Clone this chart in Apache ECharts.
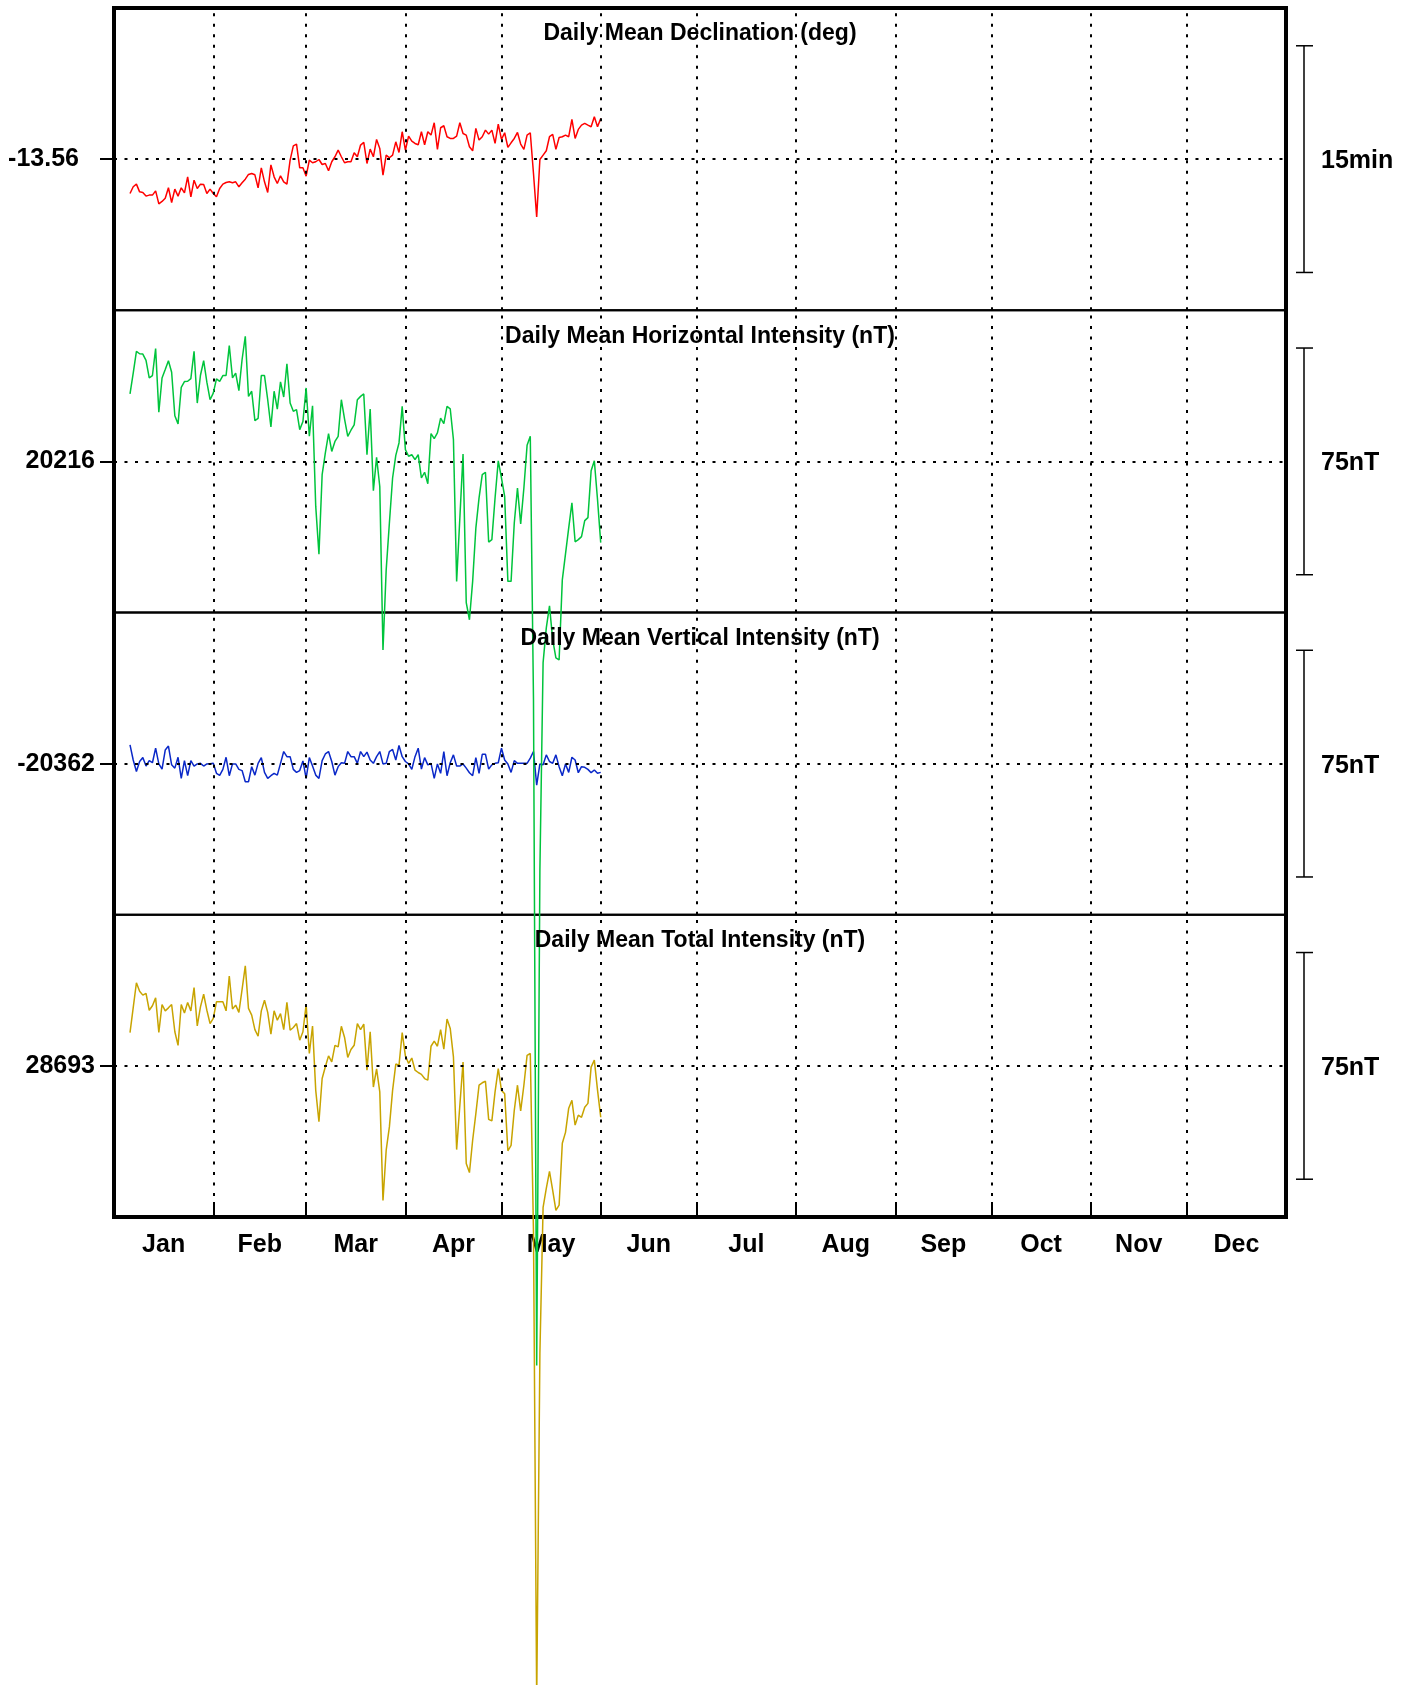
<!DOCTYPE html>
<html><head><meta charset="utf-8">
<script src="https://cdn.jsdelivr.net/npm/echarts@6/dist/echarts.min.js"></script>
<style>html,body{margin:0;padding:0;background:#fff}#c{width:1406px;height:1685px}</style>
</head><body><div id="c"></div>
<script>
// ---- data (2024, leap year; x = day of year) ----
const firstDay = 5;
const monthStarts = [0,31,60,91,121,152,182,213,244,274,305,335,366];
const monthNames = ['Jan','Feb','Mar','Apr','May','Jun','Jul','Aug','Sep','Oct','Nov','Dec'];
const panelTitles = ['Daily Mean Declination (deg)','Daily Mean Horizontal Intensity (nT)','Daily Mean Vertical Intensity (nT)','Daily Mean Total Intensity (nT)'];
const baselines = [-13.56, 20216, -20362, 28693];
const halfRanges = [10/60, 50, 50, 50];
const scaleBarSizes = [15/60, 75, 75, 75];
const scaleBarLabels = ['15min','75nT','75nT','75nT'];
const seriesColors = ['#ff0000','#00c43c','#0a28c8','#c8a400'];

const declination = [
-13.5979,-13.5905,-13.5876,-13.5961,-13.5968,-13.6008,-13.5997,-13.5997,-13.5950,-13.6093,
-13.6067,-13.6031,-13.5916,-13.6078,-13.5931,-13.6008,-13.5916,-13.5972,-13.5795,-13.6016,
-13.5832,-13.5924,-13.5876,-13.5880,-13.5979,-13.5931,-13.5979,-13.6016,-13.5924,-13.5876,
-13.5858,-13.5850,-13.5861,-13.5850,-13.5905,-13.5861,-13.5821,-13.5769,-13.5758,-13.5773,
-13.5916,-13.5696,-13.5850,-13.5968,-13.5663,-13.5795,-13.5869,-13.5784,-13.5850,-13.5876,
-13.5611,-13.5453,-13.5434,-13.5696,-13.5696,-13.5788,-13.5611,-13.5640,-13.5629,-13.5604,
-13.5659,-13.5648,-13.5729,-13.5629,-13.5574,-13.5501,-13.5574,-13.5640,-13.5629,-13.5629,
-13.5530,-13.5574,-13.5445,-13.5416,-13.5648,-13.5490,-13.5574,-13.5383,-13.5482,-13.5777,
-13.5556,-13.5585,-13.5556,-13.5409,-13.5526,-13.5298,-13.5501,-13.5346,-13.5401,-13.5427,
-13.5442,-13.5298,-13.5442,-13.5298,-13.5335,-13.5199,-13.5493,-13.5254,-13.5232,-13.5353,
-13.5372,-13.5372,-13.5346,-13.5199,-13.5317,-13.5335,-13.5464,-13.5508,-13.5261,-13.5390,
-13.5353,-13.5280,-13.5324,-13.5280,-13.5427,-13.5214,-13.5383,-13.5309,-13.5471,-13.5420,
-13.5372,-13.5306,-13.5434,-13.5493,-13.5335,-13.5309,-13.5758,-13.6237,-13.5604,-13.5556,
-13.5508,-13.5353,-13.5328,-13.5493,-13.5361,-13.5353,-13.5335,-13.5353,-13.5162,-13.5372,
-13.5272,-13.5225,-13.5206,-13.5225,-13.5243,-13.5133,-13.5243,-13.5151
];
const horizontal = [
20238.3,20245.2,20252.4,20251.6,20251.5,20249.4,20243.6,20244.4,20253.3,20232.3,
20243.6,20246.4,20249.3,20245.5,20231.1,20228.4,20240.5,20242.4,20242.5,20243.4,
20252.4,20235.3,20244.5,20249.3,20242.2,20236.4,20238.6,20243.3,20242.5,20244.4,
20244.4,20254.3,20243.6,20245.2,20239.4,20249.7,20257.4,20237.5,20239.2,20229.5,
20230.2,20244.4,20244.4,20236.4,20227.4,20239.2,20233.3,20242.3,20237.3,20248.3,
20235.3,20232.6,20233.1,20226.5,20229.2,20240.3,20224.3,20234.4,20201.1,20185.3,
20211.6,20218.8,20225.2,20219.3,20222.6,20224.3,20236.4,20230.0,20224.3,20226.3,
20228.1,20236.4,20237.5,20238.3,20218.2,20233.3,20206.3,20217.3,20207.7,20153.6,
20180.1,20195.6,20210.5,20218.0,20222.1,20234.2,20219.9,20217.7,20218.2,20216.6,
20218.2,20210.5,20212.4,20208.6,20225.2,20223.5,20225.4,20230.3,20228.5,20234.2,
20233.4,20223.2,20176.3,20197.2,20218.4,20169.3,20163.6,20176.3,20193.9,20203.9,
20211.6,20212.4,20189.3,20190.1,20203.9,20216.2,20210.5,20204.4,20176.3,20176.3,
20195.6,20207.2,20195.3,20207.2,20221.3,20224.3,20137.1,19916.9,20080.8,20149.4,
20160.9,20168.2,20157.0,20151.0,20150.3,20176.8,20185.4,20194.0,20202.3,20189.4,
20190.1,20191.1,20196.4,20197.4,20212.9,20216.2,20203.3,20189.1
];
const vertical = [
-20355.8,-20360.8,-20364.6,-20361.3,-20360.0,-20362.8,-20361.0,-20361.7,-20356.9,-20362.1,
-20363.8,-20357.5,-20356.2,-20362.4,-20363.5,-20359.9,-20366.9,-20361.0,-20366.0,-20361.0,
-20362.8,-20362.1,-20361.9,-20362.8,-20362.1,-20362.0,-20361.9,-20365.2,-20365.9,-20363.9,
-20359.9,-20366.0,-20362.1,-20362.1,-20363.9,-20364.3,-20368.0,-20368.0,-20363.0,-20365.8,
-20361.9,-20360.0,-20364.9,-20366.9,-20366.0,-20365.2,-20365.8,-20361.9,-20358.0,-20359.7,
-20359.7,-20363.9,-20364.9,-20364.3,-20361.1,-20366.9,-20360.0,-20362.8,-20365.8,-20366.9,
-20361.0,-20358.8,-20358.0,-20361.3,-20365.8,-20363.0,-20361.7,-20361.9,-20358.0,-20359.7,
-20359.7,-20361.9,-20358.0,-20359.7,-20358.2,-20360.8,-20361.9,-20359.7,-20358.0,-20362.1,
-20361.9,-20358.0,-20357.3,-20360.8,-20356.0,-20359.7,-20361.3,-20362.1,-20363.9,-20359.7,
-20356.9,-20363.8,-20360.0,-20362.4,-20361.9,-20366.9,-20362.1,-20365.2,-20358.0,-20366.0,
-20361.7,-20359.1,-20362.8,-20362.8,-20362.1,-20363.5,-20365.0,-20366.0,-20360.0,-20365.2,
-20358.9,-20358.9,-20363.8,-20362.4,-20361.9,-20361.7,-20356.9,-20360.8,-20362.1,-20364.9,
-20361.0,-20361.9,-20361.9,-20361.9,-20361.9,-20360.2,-20358.0,-20369.1,-20362.1,-20362.4,
-20359.1,-20361.3,-20361.9,-20359.1,-20363.0,-20366.0,-20362.1,-20364.9,-20359.9,-20360.8,
-20365.0,-20363.0,-20363.2,-20363.9,-20365.0,-20364.1,-20365.2,-20364.9
];
const total = [
28704.0,28712.3,28720.5,28717.7,28716.4,28717.0,28711.4,28712.9,28715.5,28704.1,
28713.3,28711.2,28712.2,28713.3,28704.3,28699.8,28713.3,28710.5,28714.0,28711.2,
28718.9,28706.2,28712.5,28716.7,28711.4,28707.0,28708.7,28714.2,28714.2,28714.2,
28711.2,28722.7,28711.8,28713.1,28710.7,28718.3,28726.1,28712.0,28709.8,28705.0,
28702.8,28711.2,28714.7,28710.7,28703.5,28711.2,28708.1,28710.3,28705.0,28714.0,
28704.8,28705.7,28707.0,28701.5,28704.3,28713.3,28697.1,28706.2,28684.9,28674.5,
28688.8,28692.7,28696.3,28694.3,28699.8,28699.3,28706.1,28702.4,28695.8,28698.4,
28699.8,28707.0,28705.0,28706.8,28691.6,28704.3,28686.0,28692.0,28684.4,28648.5,
28665.1,28672.8,28684.9,28693.6,28693.2,28704.0,28696.3,28693.8,28695.6,28691.6,
28690.8,28690.2,28688.8,28688.3,28699.5,28701.2,28699.5,28705.0,28698.5,28708.5,
28705.4,28696.0,28665.3,28679.9,28694.3,28660.7,28657.7,28668.4,28677.2,28686.6,
28687.4,28687.9,28675.3,28674.8,28684.4,28692.1,28684.9,28683.8,28664.9,28666.7,
28678.3,28686.6,28678.1,28686.6,28696.5,28697.1,28637.9,28483.0,28597.9,28646.2,
28652.5,28658.1,28651.8,28645.2,28646.9,28667.4,28671.0,28679.0,28681.6,28673.4,
28676.7,28676.0,28679.3,28680.6,28692.6,28694.9,28685.0,28676.0
];
const panelData = [declination, horizontal, vertical, total];

// ---- layout ----
const L = 114, W = 1172, T0 = 8, PH = 302.25;
const FONT = '"Liberation Sans", Arial, sans-serif';
const innerMonthLines = monthStarts.slice(1, -1);
const monthMids = monthNames.map((n, i) => (monthStarts[i] + monthStarts[i + 1]) / 2);

const chart = echarts.init(document.getElementById('c'), null, {renderer: 'canvas'});

const grids = [], xAxes = [], yAxes = [], series = [];
for (let i = 0; i < 4; i++) {
  const b = baselines[i], h = halfRanges[i];
  grids.push({left: L, width: W, top: T0 + i * PH, height: PH, show: true,
    borderColor: '#000', borderWidth: 2, backgroundColor: 'transparent', containLabel: false});
  const last = i === 3;
  xAxes.push({type: 'value', gridIndex: i, min: 0, max: 366,
    axisLine: {show: false}, splitLine: {show: false},
    axisTick: last ? {show: true, inside: true, length: 15, customValues: innerMonthLines,
      lineStyle: {color: '#000', width: 2}} : {show: false},
    axisLabel: last ? {show: true, customValues: monthMids,
      formatter: v => { const k = monthMids.findIndex(m => Math.abs(m - v) < 0.01); return k >= 0 ? monthNames[k] : ''; },
      fontSize: 25, fontWeight: 'bold', color: '#000', fontFamily: FONT, margin: 16} : {show: false}});
  yAxes.push({type: 'value', gridIndex: i, min: b - h, max: b + h, scale: true,
    axisLine: {show: false}, splitLine: {show: false},
    axisTick: {show: true, length: 14, customValues: [b], lineStyle: {color: '#000', width: 2}},
    axisLabel: {show: true, customValues: [b],
      formatter: v => i === 0 ? v.toFixed(2) : String(Math.round(v)),
      padding: [7, 0, 0, 0],
      fontSize: 25, fontWeight: 'bold', color: '#000', fontFamily: FONT, margin: i === 0 ? 35 : 19}});
  series.push({type: 'line', xAxisIndex: i, yAxisIndex: i,
    data: panelData[i].map((v, k) => [firstDay + k, v]),
    showSymbol: false, symbol: 'none', clip: false, animation: false,
    z: i === 1 ? 6 : 4,
    lineStyle: {color: seriesColors[i], width: 1.5},
    markLine: {silent: true, symbol: ['none', 'none'], animation: false, label: {show: false},
      lineStyle: {color: '#000', type: [3, 7.5], width: 2},
      emphasis: {disabled: true},
      data: innerMonthLines.map(x => ({xAxis: x})).concat([{yAxis: b}])}});
}

chart.setOption({
  animation: false,
  backgroundColor: '#fff',
  grid: grids, xAxis: xAxes, yAxis: yAxes, series: series
});

// scale bars and titles, positioned through the axes
const graphics = [];
for (let i = 0; i < 4; i++) {
  const b = baselines[i];
  const cy = chart.convertToPixel({yAxisIndex: i}, b);
  const ty = chart.convertToPixel({yAxisIndex: i}, b + scaleBarSizes[i] / 2);
  const by = chart.convertToPixel({yAxisIndex: i}, b - scaleBarSizes[i] / 2);
  const top = T0 + i * PH;
  graphics.push({type: 'text', x: L + W / 2, y: top + 26, z: 50,
    style: {text: panelTitles[i], align: 'center', verticalAlign: 'middle',
      font: 'bold 23px ' + FONT, fill: '#000'}});
  graphics.push({type: 'line', shape: {x1: 1304, y1: ty, x2: 1304, y2: by}, style: {stroke: '#000', lineWidth: 1.5}});
  graphics.push({type: 'line', shape: {x1: 1296, y1: ty, x2: 1313, y2: ty}, style: {stroke: '#000', lineWidth: 1.5}});
  graphics.push({type: 'line', shape: {x1: 1296, y1: by, x2: 1313, y2: by}, style: {stroke: '#000', lineWidth: 1.5}});
  graphics.push({type: 'text', x: 1321, y: cy + 2,
    style: {text: scaleBarLabels[i], align: 'left', verticalAlign: 'middle', font: 'bold 25px ' + FONT, fill: '#000'}});
}
graphics.push({type: 'rect', z: 1, shape: {x: L, y: T0, width: W, height: 4 * PH},
  style: {fill: null, stroke: '#000', lineWidth: 4}});
chart.setOption({graphic: graphics});
</script>
</body></html>
